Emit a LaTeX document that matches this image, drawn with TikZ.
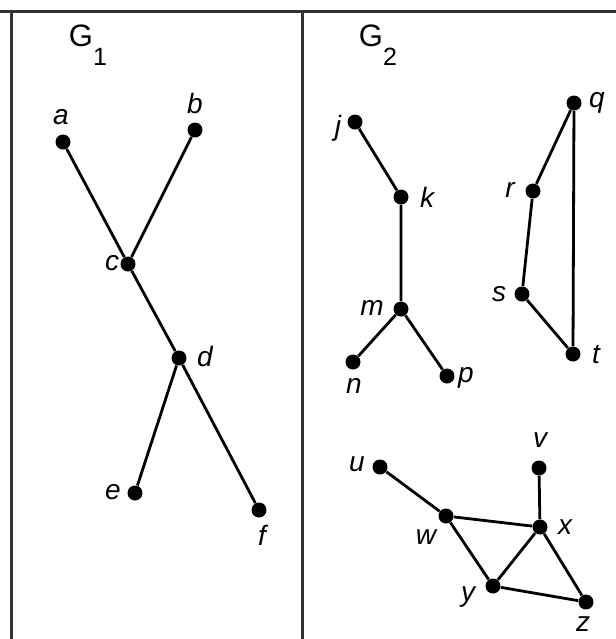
\documentclass[tikz,border=0pt]{standalone}
\usepackage{fontspec}
\setmainfont{Liberation Sans}
\begin{document}
\begin{tikzpicture}[x=0.5pt,y=-0.5pt,
  vtx/.style={circle,fill=black,inner sep=0pt,minimum size=7.5pt},
  lbl/.style={font=\fontsize{14}{14}\selectfont\itshape,inner sep=1pt},
  edge/.style={line width=1.4pt},
  frame/.style={line width=1.5pt,draw=black!80},
  title/.style={font=\fontsize{15.5}{16}\selectfont,inner sep=0pt}]
\useasboundingbox (0,0) rectangle (616,639);
\draw[frame] (0,11) -- (616,11);
\draw[frame] (11,11) -- (11,639);
\draw[frame] (302,11) -- (302,639);
\node[title] (g1) at (88,45) {G\raisebox{-1.2ex}{\fontsize{12.5}{13}\selectfont 1}};
\node[title] (g2) at (378,45) {G\raisebox{-1.2ex}{\fontsize{12.5}{13}\selectfont 2}};
% G1
\node[vtx] (a) at (63,142) {};
\node[vtx] (b) at (195,130) {};
\node[vtx] (c) at (128,264) {};
\node[vtx] (d) at (179,358) {};
\node[vtx] (e) at (135,493) {};
\node[vtx] (f) at (259,510) {};
\draw[edge] (a) -- (c) -- (d) -- (f);
\draw[edge] (b) -- (c);
\draw[edge] (d) -- (e);
\node[lbl] (la) at (61,117) {a};
\node[lbl] (lb) at (195,103) {b};
\node[lbl] (lc) at (112,263) {c};
\node[lbl] (ld) at (205,356) {d};
\node[lbl] (le) at (113,492) {e};
\node[lbl] (lf) at (262,535) {f};
% G2 tree
\node[vtx] (j) at (355,122) {};
\node[vtx] (k) at (401,197) {};
\node[vtx] (m) at (401,309) {};
\node[vtx] (n) at (353,362) {};
\node[vtx] (p) at (447,376) {};
\draw[edge] (j) -- (k) -- (m) -- (n);
\draw[edge] (m) -- (p);
\node[lbl] (lj) at (338,128) {j};
\node[lbl] (lk) at (427,197) {k};
\node[lbl] (lm) at (372,308) {m};
\node[lbl] (ln) at (354,386) {n};
\node[lbl] (lp) at (466,378) {p};
% G2 cycle
\node[vtx] (q) at (574,103) {};
\node[vtx] (r) at (533,191) {};
\node[vtx] (s) at (522,294) {};
\node[vtx] (t) at (573,354) {};
\draw[edge] (q) -- (r) -- (s) -- (t) -- (q);
\node[lbl] (lq) at (597,103) {q};
\node[lbl] (lr) at (510,190) {r};
\node[lbl] (ls) at (499,294) {s};
\node[lbl] (lt) at (596,355) {t};
% G2 lower
\node[vtx] (u) at (380,467) {};
\node[vtx] (v) at (539,468) {};
\node[vtx] (w) at (446,516) {};
\node[vtx] (x) at (540,527) {};
\node[vtx] (y) at (493,586) {};
\node[vtx] (z) at (586,602) {};
\draw[edge] (u) -- (w) -- (x) -- (v);
\draw[edge] (w) -- (y) -- (x) -- (z) -- (y);
\node[lbl] (lu) at (357,464) {u};
\node[lbl] (lv) at (540,440) {v};
\node[lbl] (lw) at (426,537) {w};
\node[lbl] (lx) at (565,527) {x};
\node[lbl] (ly) at (468,597) {y};
\node[lbl] (lz) at (583,624) {z};
\end{tikzpicture}
\end{document}
